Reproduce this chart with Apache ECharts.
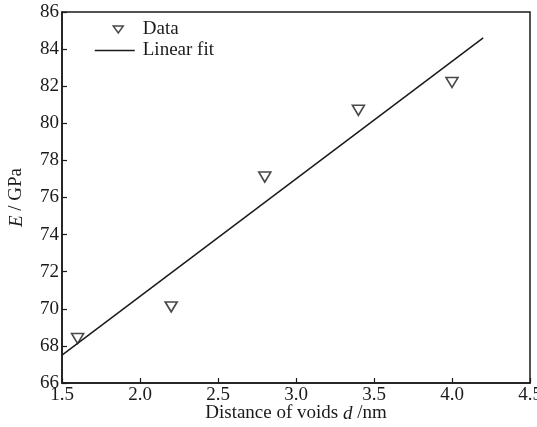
<!DOCTYPE html>
<html>
<head>
<meta charset="utf-8">
<script src="https://cdn.jsdelivr.net/npm/echarts@6/dist/echarts.min.js"></script>
<style>
  html, body { margin: 0; padding: 0; background: #fff; }
  #chart { width: 537px; height: 427px; }
</style>
</head>
<body>
<div id="chart"></div>
<script>
// Measured Young's modulus against void spacing
const distance = [1.6, 2.2, 2.8, 3.4, 4.0];
const modulus = [68.4, 70.1, 77.1, 80.7, 82.2];
// Straight-line fit endpoints
const fitDistance = [1.5, 4.2];
const fitModulus = [67.5, 84.6];

const FONT = '"Liberation Serif", "Times New Roman", serif';
const INK = '#1a1a1a';
const downTriangle = 'path://M0,0 L12,0 L6,10 Z';
// Legend icons padded to a fixed 43x12 box so they are not stretched
const legendTriangle = 'path://M0,0 L0,0 M18.5,2.5 L28.5,2.5 L23.5,9.5 Z M43,12 L43,12';
const legendLine = 'path://M0,0 L0,0 M0,5.2 L40,5.2 L40,6.8 L0,6.8 Z M43,12 L43,12';

const chart = echarts.init(document.getElementById('chart'), null, { renderer: 'canvas' });

chart.setOption({
  backgroundColor: '#fff',
  animation: false,
  grid: {
    left: 62, right: 7, top: 12, bottom: 44,
    outerBoundsMode: 'none',
    containLabel: false,
    show: true, borderColor: INK, borderWidth: 1.5, backgroundColor: 'transparent'
  },
  legend: {
    orient: 'vertical',
    left: 94, top: 20,
    padding: 0,
    itemWidth: 43, itemHeight: 12, itemGap: 2,
    textStyle: { fontFamily: FONT, fontSize: 19, color: INK, lineHeight: 19 },
    data: [
      { name: 'Data', icon: legendTriangle,
        itemStyle: { color: '#fff', borderColor: INK, borderWidth: 1.5 } },
      { name: 'Linear fit', icon: legendLine,
        itemStyle: { color: INK, borderWidth: 0 } }
    ]
  },
  xAxis: {
    type: 'value', min: 1.5, max: 4.5, interval: 0.5,
    name: 'Distance of voids {i|d} /nm',
    nameLocation: 'middle', nameGap: 21,
    nameMoveOverlap: false,
    nameTextStyle: {
      fontFamily: FONT, fontSize: 19, color: INK, verticalAlign: 'top',
      rich: { i: { fontFamily: FONT, fontSize: 19, fontStyle: 'italic', color: INK } }
    },
    axisLine: { lineStyle: { color: INK, width: 1.5 } },
    axisTick: { inside: true, length: 5, lineStyle: { color: INK, width: 1.2 } },
    axisLabel: {
      fontFamily: FONT, fontSize: 19, color: INK, margin: 3,
      formatter: v => v.toFixed(1)
    },
    splitLine: { show: false }
  },
  yAxis: {
    type: 'value', min: 66, max: 86, interval: 2,
    name: '{i|E} / GPa',
    nameLocation: 'middle', nameGap: 36, nameRotate: 90,
    nameTextStyle: {
      fontFamily: FONT, fontSize: 19, color: INK,
      rich: { i: { fontFamily: FONT, fontSize: 19, fontStyle: 'italic', color: INK } }
    },
    axisLine: { lineStyle: { color: INK, width: 1.5 } },
    axisTick: { inside: true, length: 5, lineStyle: { color: INK, width: 1.2 } },
    axisLabel: { fontFamily: FONT, fontSize: 19, color: INK, margin: 3 },
    splitLine: { show: false }
  },
  series: [
    {
      name: 'Data',
      type: 'scatter',
      symbol: downTriangle,
      symbolSize: [12, 10],
      itemStyle: { color: '#fff', borderColor: INK, borderWidth: 1.6 },
      data: distance.map((d, i) => [d, modulus[i]]),
      z: 3
    },
    {
      name: 'Linear fit',
      type: 'line',
      symbol: 'none',
      lineStyle: { color: INK, width: 1.5 },
      itemStyle: { color: INK },
      data: fitDistance.map((d, i) => [d, fitModulus[i]]),
      z: 2
    }
  ]
});
</script>
</body>
</html>
